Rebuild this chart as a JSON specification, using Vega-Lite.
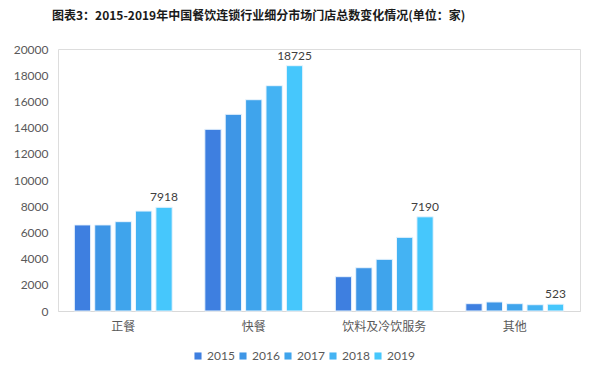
{
  "$schema": "https://vega.github.io/schema/vega-lite/v6.json",
  "autosize": {"type": "none"},
  "width": 522,
  "height": 262,
  "padding": {"left": 58, "top": 49, "right": 20, "bottom": 66},
  "background": "white",
  "title": {
    "text": "图表3：2015-2019年中国餐饮连锁行业细分市场门店总数变化情况(单位：家)",
    "font": "Noto Sans CJK SC",
    "fontSize": 12,
    "fontWeight": "bold",
    "color": "#1a1a1a",
    "anchor": "start",
    "frame": "group",
    "dx": -6,
    "offset": 20
  },
  "data": {
    "values": [
      {"cat": "正餐", "year": "2015", "value": 6570},
      {"cat": "正餐", "year": "2016", "value": 6570},
      {"cat": "正餐", "year": "2017", "value": 6820},
      {"cat": "正餐", "year": "2018", "value": 7630},
      {"cat": "正餐", "year": "2019", "value": 7918, "label": "7918"},
      {"cat": "快餐", "year": "2015", "value": 13870},
      {"cat": "快餐", "year": "2016", "value": 15015},
      {"cat": "快餐", "year": "2017", "value": 16130},
      {"cat": "快餐", "year": "2018", "value": 17200},
      {"cat": "快餐", "year": "2019", "value": 18725, "label": "18725"},
      {"cat": "饮料及冷饮服务", "year": "2015", "value": 2620},
      {"cat": "饮料及冷饮服务", "year": "2016", "value": 3305},
      {"cat": "饮料及冷饮服务", "year": "2017", "value": 3945},
      {"cat": "饮料及冷饮服务", "year": "2018", "value": 5625},
      {"cat": "饮料及冷饮服务", "year": "2019", "value": 7190, "label": "7190"},
      {"cat": "其他", "year": "2015", "value": 560},
      {"cat": "其他", "year": "2016", "value": 690},
      {"cat": "其他", "year": "2017", "value": 560},
      {"cat": "其他", "year": "2018", "value": 480},
      {"cat": "其他", "year": "2019", "value": 523, "label": "523"}
    ]
  },
  "encoding": {
    "x": {
      "field": "cat",
      "type": "nominal",
      "sort": ["正餐", "快餐", "饮料及冷饮服务", "其他"],
      "scale": {"paddingInner": 0.25, "paddingOuter": 0.125},
      "axis": {
        "title": null,
        "labelAngle": 0,
        "labelFont": "Noto Sans CJK SC",
        "labelFontSize": 12,
        "labelColor": "#595959",
        "labelPadding": 10,
        "ticks": false,
        "domainColor": "#d9d9d9",
        "grid": false
      }
    },
    "xOffset": {"field": "year", "type": "nominal", "scale": {"paddingInner": 0.2}},
    "y": {
      "field": "value",
      "type": "quantitative",
      "scale": {"domain": [0, 20000]},
      "axis": {
        "title": null,
        "values": [0, 2000, 4000, 6000, 8000, 10000, 12000, 14000, 16000, 18000, 20000],
        "format": "d",
        "labelFont": "Lato",
        "labelFontSize": 12,
        "labelColor": "#595959",
        "labelPadding": 10,
        "ticks": false,
        "domain": false,
        "grid": false
      }
    }
  },
  "layer": [
    {
      "mark": {"type": "bar", "stroke": "#eaf4fd", "strokeWidth": 1},
      "encoding": {
        "color": {
          "field": "year",
          "type": "nominal",
          "scale": {
            "domain": ["2015", "2016", "2017", "2018", "2019"],
            "range": ["#3e7fe0", "#3e96e6", "#3fa4ec", "#44b3f3", "#46c7fc"]
          },
          "legend": {
            "title": null,
            "orient": "none",
            "direction": "horizontal",
            "legendX": 134,
            "legendY": 301,
            "symbolType": "square",
            "symbolSize": 50,
            "symbolStrokeWidth": 0,
            "labelFont": "Lato",
            "labelFontSize": 12,
            "labelColor": "#595959",
            "columnPadding": 2,
            "labelOffset": 3
          }
        }
      }
    },
    {
      "transform": [{"filter": "isValid(datum.label)"}],
      "mark": {"type": "text", "dy": -10, "font": "Lato", "fontSize": 12, "color": "#404040"},
      "encoding": {
        "text": {"field": "label"}
      }
    }
  ]
}
